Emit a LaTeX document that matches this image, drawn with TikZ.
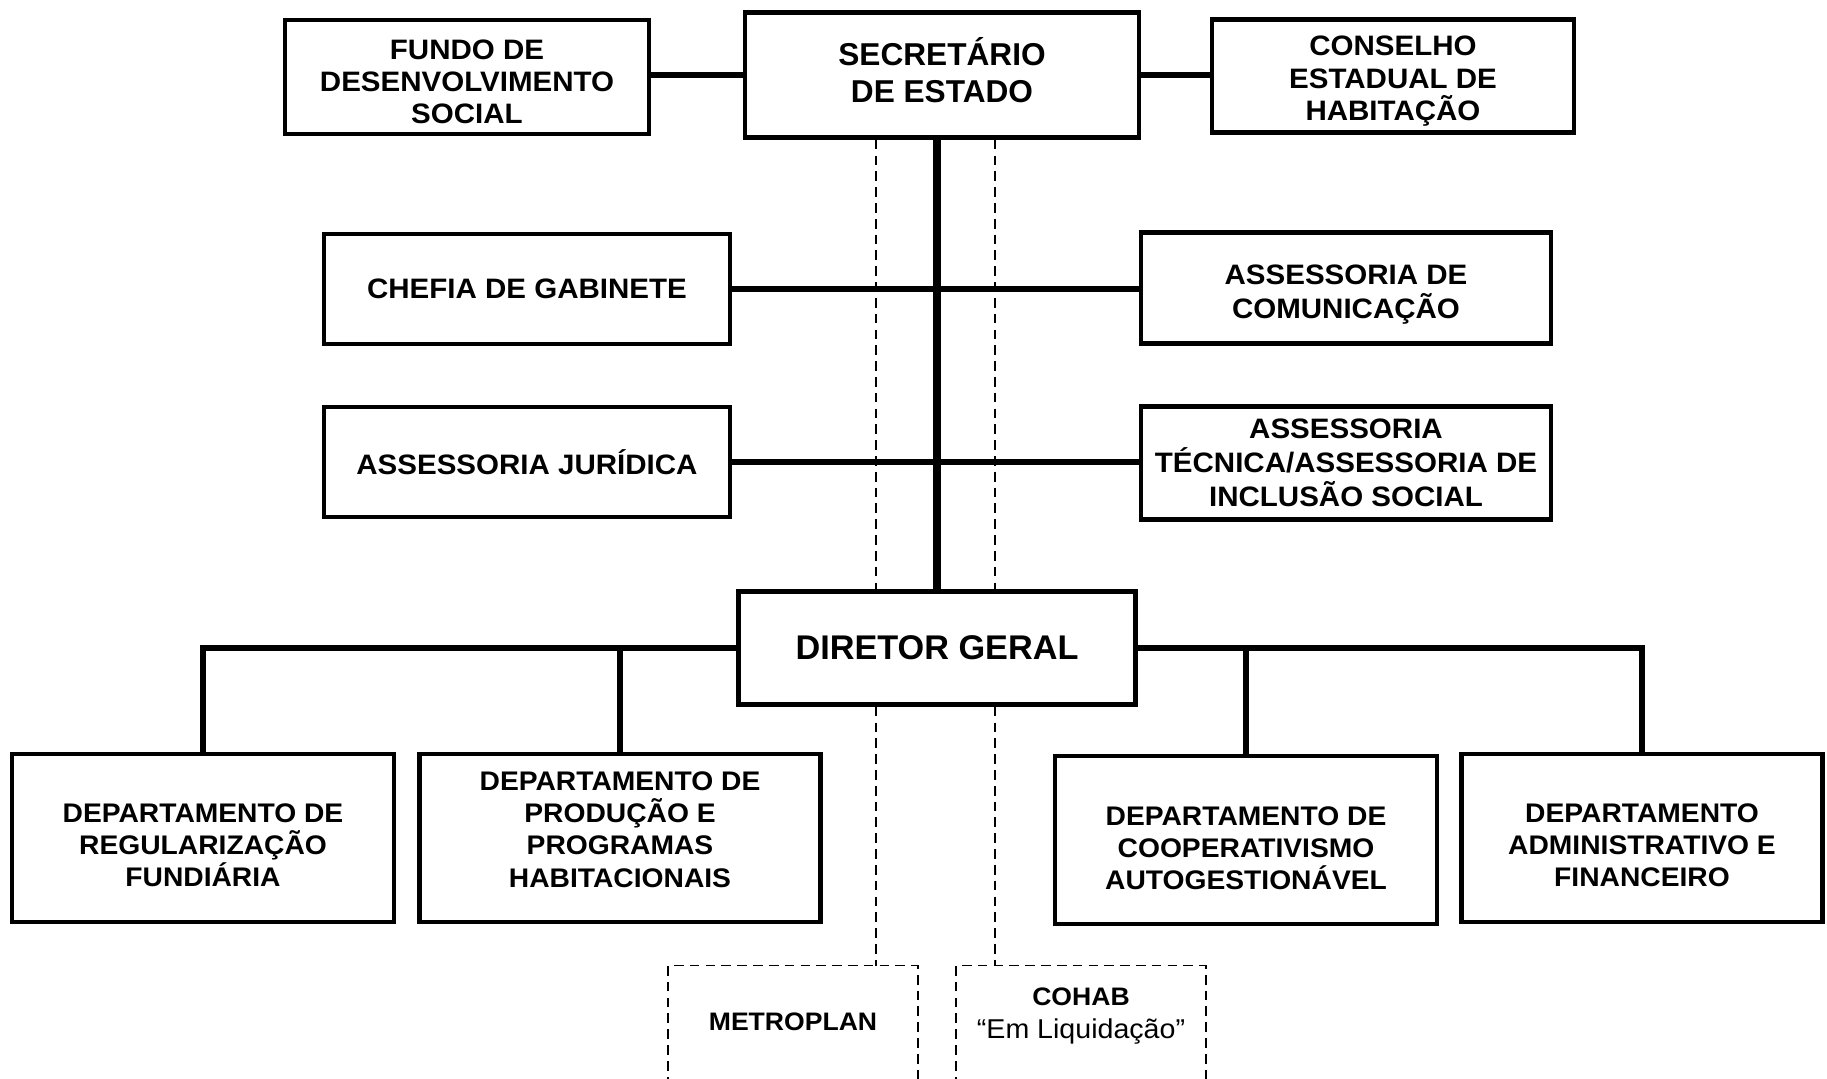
\documentclass[tikz,border=0pt]{standalone}
\usepackage{fontspec}
\setmainfont{Liberation Sans}
\newfontfamily\widefont{Liberation Sans}[FakeStretch=1.05]
\usepackage{tikz}
\tikzset{
  boss/.style={
    rectangle, draw=black, line width=2.6pt, fill=white,
    align=center, inner sep=2pt,
    font=\fontsize{18pt}{21pt}\selectfont\bfseries,
  },
  unit/.style={
    rectangle, draw=black, line width=2.6pt, fill=white,
    align=center, inner sep=2pt,
    font=\widefont\fontsize{16pt}{18.3pt}\selectfont\bfseries,
  },
  dept/.style={
    unit, minimum height=3.36cm,
    font=\widefont\fontsize{15.3pt}{18.4pt}\selectfont\bfseries,
  },
  ext/.style={
    rectangle, align=center, inner sep=2pt,
    minimum width=4.98cm, minimum height=2cm,
    font=\widefont\fontsize{14.4pt}{19pt}\selectfont\bfseries,
  },
  link/.style={line width=3pt},
  trunk/.style={line width=4.2pt},
  tie/.style={line width=0.9pt, dash pattern=on 5.5pt off 3.5pt},
}

\begin{document}
\begin{tikzpicture}[x=0.02cm, y=-0.02cm]

  \useasboundingbox (0,0) rectangle (1827,1079);

  \node[boss, minimum width=7.88cm, minimum height=2.5cm] (sec) at (942,75) {SECRETÁRIO\\DE ESTADO\rule[-5.4pt]{0pt}{5.4pt}};
  \node[unit, minimum width=7.28cm, minimum height=2.28cm] (fds) at (467,77) {\rule{0pt}{17pt}FUNDO DE\\DESENVOLVIMENTO\\SOCIAL};
  \node[unit, minimum width=7.24cm, minimum height=2.26cm] (ceh) at (1393,76) {\rule{0pt}{17pt}CONSELHO\\ESTADUAL DE\\HABITAÇÃO};
  \node[unit, minimum width=8.12cm, minimum height=2.2cm] (gab) at (527,289) {CHEFIA DE GABINETE};
  \node[unit, minimum width=8.2cm, minimum height=2.22cm, font=\widefont\fontsize{16pt}{19.2pt}\selectfont\bfseries] (com) at (1346,288) {\rule{0pt}{19pt}ASSESSORIA DE\\COMUNICAÇÃO};
  \node[unit, minimum width=8.12cm, minimum height=2.2cm] (jur) at (527,462) {ASSESSORIA JURÍDICA};
  \node[unit, minimum width=8.2cm, minimum height=2.26cm, font=\widefont\fontsize{16pt}{19.2pt}\selectfont\bfseries] (tec) at (1346,463) {ASSESSORIA\\TÉCNICA/ASSESSORIA DE\\INCLUSÃO SOCIAL};
  \node[boss, minimum width=7.94cm, minimum height=2.26cm, font=\fontsize{19.5pt}{22pt}\selectfont\bfseries] (dg) at (937,648) {DIRETOR GERAL};

  \node[dept, minimum width=7.64cm] (dr) at (203,838) {\rule{0pt}{19pt}DEPARTAMENTO DE\\REGULARIZAÇÃO\\FUNDIÁRIA};
  \node[dept, minimum width=8.02cm] (dp) at (620,838) {DEPARTAMENTO DE\\PRODUÇÃO E\\PROGRAMAS\\HABITACIONAIS\rule[-10pt]{0pt}{10pt}};
  \node[dept, minimum width=7.64cm] (dc) at (1246,840) {\rule{0pt}{20pt}DEPARTAMENTO DE\\COOPERATIVISMO\\AUTOGESTIONÁVEL};
  \node[dept, minimum width=7.22cm] (da) at (1642,838) {\rule{0pt}{19pt}DEPARTAMENTO\\ADMINISTRATIVO E\\FINANCEIRO};

  \node[ext] (met) at (793,1016) {\rule{0pt}{17pt}METROPLAN};
  \node[ext] (coh) at (1081,1016) {COHAB\\{\mdseries\fontsize{15.5pt}{19pt}\selectfont “Em Liquidação”}};

  \draw[link] (sec.west) -- (sec.west -| fds.east);
  \draw[link] (sec.east) -- (sec.east -| ceh.west);
  \draw[trunk] (dg.north) -- (dg.north |- sec.south);
  \draw[link] (gab.east) -- (gab.east -| com.west);
  \draw[link] (jur.east) -- (jur.east -| tec.west);

  \draw[link] (dg.west) -| (dr.north);
  \draw[link] (dg.west -| dp.north) -- (dp.north);
  \draw[link] (dg.east) -| (da.north);
  \draw[link] (dg.east -| dc.north) -- (dc.north);

  \coordinate (ml) at (876,0);
  \coordinate (cl) at (995,0);
  \draw[tie] (ml |- sec.south) -- (ml |- dg.north);
  \draw[tie] (ml |- dg.south) -- (ml |- met.north);
  \draw[tie] (cl |- sec.south) -- (cl |- dg.north);
  \draw[tie] (cl |- dg.south) -- (cl |- coh.north);
  \draw[tie] ([yshift=-0.4cm]met.south west) |- (met.north east) -- ([yshift=-0.4cm]met.south east);
  \draw[tie] ([yshift=-0.4cm]coh.south west) |- (coh.north east) -- ([yshift=-0.4cm]coh.south east);

\end{tikzpicture}
\end{document}
